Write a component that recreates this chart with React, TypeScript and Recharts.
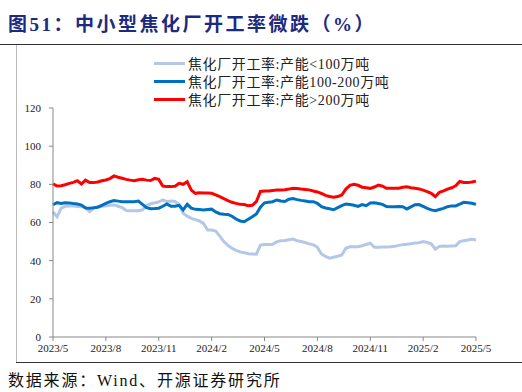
import React from "react";
import { LineChart, Line, XAxis, YAxis, Legend } from "recharts";

const tickLabels = ["2023/5", "2023/8", "2023/11", "2024/2", "2024/5", "2024/8", "2024/11", "2025/2", "2025/5"];
const tickWeeks = [0, 13, 26, 39, 52, 65, 78, 91, 104];
const yTicks = [0, 20, 40, 60, 80, 100, 120];

const seriesNames = ["焦化厂开工率:产能<100万吨", "焦化厂开工率:产能100-200万吨", "焦化厂开工率:产能>200万吨"];
const seriesColors = ["#B4C7E7", "#0070C0", "#FF0000"];

const small = [
  65.5, 63, 67.5, 68.5, 68.7, 68.6, 68.4, 68.3, 67.8, 65.7, 67.5, 68.3, 68.5, 68.7, 69, 69.2, 68.5, 67.8, 66.3, 66.2,
  66.2, 66.2, 66.6, 68.8, 69.8, 70.3, 70.8, 71.8, 70.9, 71.2, 71, 69.5, 64.8, 63.3, 62.2, 61.5, 60.8, 59.5, 56.1, 56.1,
  55.5, 52.9, 50, 48, 46.5, 45.4, 44.6, 44.2, 43.6, 43.5, 43.4, 48.2, 48.5, 48.5, 48.6, 49.8, 50.5, 50.6, 51, 51.3,
  50.5, 50, 49.5, 48.8, 48.3, 47, 43.5, 42.2, 41.3, 41.8, 42.3, 43, 46.5, 47.3, 47.3, 47.3, 47.8, 48.5, 49.1, 47,
  47, 47.1, 47.2, 47.3, 47.5, 48, 48.4, 48.6, 48.9, 49.2, 49.4, 50, 49.5, 48.8, 46, 47.5, 47.7, 47.6, 47.7, 47.8,
  50, 50.4, 50.8, 51.2, 50.8,
];

const medium = [
  69.3, 70.4, 70, 70.4, 70.2, 69.9, 69.7, 69.1, 67.6, 67.5, 67.7, 68, 69, 70, 70.9, 71.5, 71.2, 70.9, 70.9, 70.9,
  70.9, 71.2, 69.5, 67.8, 67.2, 67.3, 67.5, 68.5, 69.7, 68.5, 68.5, 69, 66.6, 69.5, 67.5, 66.9, 66.8, 66.6, 66.8, 67,
  65.5, 64.6, 64.3, 64.2, 63.3, 61.8, 60.8, 60.4, 61.7, 63, 64.5, 68, 70.3, 70.6, 70.9, 71.8, 71.3, 71, 72.2, 72.6,
  72, 71.6, 71.3, 70.9, 70.9, 70, 68.3, 67.6, 67.2, 66.7, 67.8, 68.8, 69.7, 69.4, 69, 68.4, 69.4, 68.8, 70.2, 70.3,
  70, 69.5, 68.4, 68.3, 68.3, 68.4, 68.3, 67.1, 68.2, 69.3, 69.4, 68.4, 67.4, 66.6, 66.2, 66.8, 67.4, 68.3, 68.7, 68.7,
  69.6, 70.6, 70.4, 70.1, 69.5,
];

const large = [
  80.2, 79.1, 79.3, 79.8, 80.5, 81, 81.9, 80.2, 82.2, 80.9, 80.9, 81.2, 81.9, 82.3, 83, 84.4, 83.7, 83.2, 82.6, 82.2,
  81.9, 82.4, 82.6, 82.2, 82, 83.1, 82.6, 79.1, 78.8, 78.8, 79, 80.5, 80, 81.4, 77, 75.3, 75.6, 75.5, 75.4, 75.3,
  74.5, 73.6, 72.5, 71.5, 70.6, 70, 69.5, 69.4, 68.8, 69, 71, 76.3, 76.5, 76.5, 76.8, 77, 77, 77.2, 77.5, 77.9,
  77.8, 77.5, 77.3, 77.1, 76.5, 76, 75.2, 74.2, 73.6, 73.2, 73.6, 74.4, 77.5, 79.5, 80, 79.5, 78.5, 78.2, 77.9, 78.6,
  79.6, 79, 77.9, 78, 77.9, 78, 78.5, 78.7, 78.2, 77.9, 77.6, 77, 76.2, 75.3, 73.5, 75.8, 76.6, 77.5, 78.2, 79.2,
  81.5, 81, 80.9, 81.2, 81.7,
];

const data = small.map((v, i) => ({ w: i, s: v, m: medium[i], l: large[i] }));

const serif = "'Times New Roman', 'Liberation Serif', 'Noto Sans CJK SC', serif";
const cjk = "'Liberation Serif', 'Noto Sans CJK SC', serif";

const LegendContent = () => (
  <div style={{ fontFamily: cjk, fontSize: 14, color: "#222" }}>
    {seriesNames.map((n, i) => (
      <div key={n} style={{ display: "flex", alignItems: "center", height: 18 }}>
        <div style={{ width: 31, height: 3, background: seriesColors[i], marginRight: 3 }} />
        <span style={{ letterSpacing: 0.6, whiteSpace: "nowrap" }}>{n}</span>
      </div>
    ))}
  </div>
);

export default function App() {
  return (
    <div style={{ position: "absolute", left: 0, top: 0, width: 522, height: 392, background: "#fff", overflow: "hidden" }}>
      <div
        style={{
          position: "absolute",
          left: 8,
          top: 9,
          fontFamily: "'Times New Roman', 'Liberation Serif', 'Noto Sans CJK SC', serif",
          fontWeight: 700,
          fontSize: 19,
          letterSpacing: 2.5,
          color: "#1C2A80",
          whiteSpace: "nowrap",
        }}
      >
        图51：中小型焦化厂开工率微跌（%）
      </div>
      <div style={{ position: "absolute", left: 0, top: 44, width: 522, height: 1, background: "#333" }} />
      <div style={{ position: "absolute", left: 16, top: 45, width: 1, height: 318, background: "#bbb" }} />
      <div style={{ position: "absolute", left: 16, top: 362, width: 506, height: 1, background: "#333" }} />
      <div
        style={{
          position: "absolute",
          left: 8,
          top: 367,
          fontFamily: cjk,
          fontSize: 16,
          letterSpacing: 1.8,
          color: "#111",
          whiteSpace: "nowrap",
        }}
      >
        数据来源：Wind、开源证券研究所
      </div>
      <div style={{ position: "absolute", left: 0, top: 0 }}>
        <LineChart width={522} height={392} data={data} margin={{ top: 108, right: 46, bottom: 25, left: 13 }}>
          <XAxis
            dataKey="w"
            type="number"
            domain={[0, 104]}
            ticks={tickWeeks}
            tickFormatter={(v: number) => tickLabels[tickWeeks.indexOf(v)] ?? ""}
            interval={0}
            height={30}
            stroke="#888"
            tickSize={4}
            tick={{ fill: "#222", fontSize: 11, fontFamily: serif, dy: 1 }}
          />
          <YAxis
            domain={[0, 120]}
            ticks={yTicks}
            interval={0}
            width={40}
            stroke="#888"
            tickSize={4}
            tick={{ fill: "#222", fontSize: 11, fontFamily: serif, dx: -6 }}
          />
          <Legend
            layout="vertical"
            verticalAlign="middle"
            align="center"
            content={<LegendContent />}
            wrapperStyle={{ position: "absolute", left: 154, top: 54, width: 260, height: 56 }}
          />
          <Line dataKey="s" name={seriesNames[0]} stroke={seriesColors[0]} strokeWidth={3} dot={false} isAnimationActive={false} />
          <Line dataKey="m" name={seriesNames[1]} stroke={seriesColors[1]} strokeWidth={3} dot={false} isAnimationActive={false} />
          <Line dataKey="l" name={seriesNames[2]} stroke={seriesColors[2]} strokeWidth={3} dot={false} isAnimationActive={false} />
        </LineChart>
      </div>
    </div>
  );
}
